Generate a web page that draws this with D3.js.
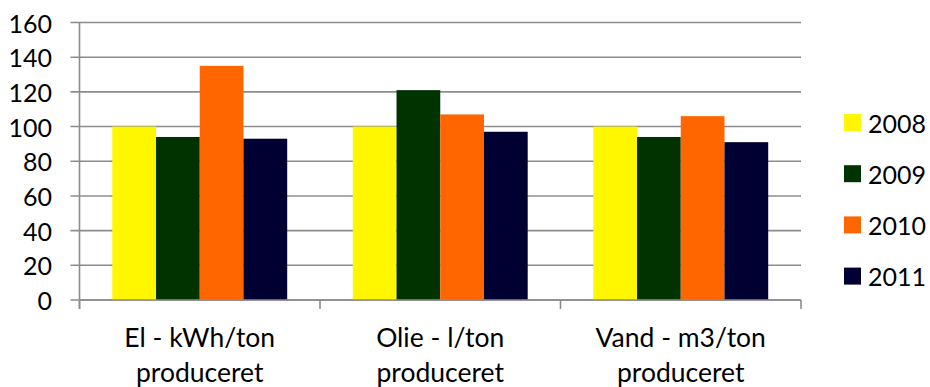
<!DOCTYPE html>
<html>
<head>
<meta charset="utf-8">
<script src="https://cdn.jsdelivr.net/npm/d3@7"></script>
<style>
  html, body { margin: 0; padding: 0; background: #fff; }
  svg { display: block; }
  text { font-family: Lato, "Open Sans", sans-serif; fill: #000; }
</style>
</head>
<body>
<svg id="chart" width="930" height="387"></svg>
<script>
// Category labels (two lines each)
const categories = ["El - kWh/ton\nproduceret", "Olie - l/ton\nproduceret", "Vand - m3/ton\nproduceret"];
const years = ["2008", "2009", "2010", "2011"];
const colors = ["#FFF700", "#003300", "#FF6600", "#000033"];

// Index values per year, in category order
const values2008 = [100, 100, 100];
const values2009 = [94, 121, 94];
const values2010 = [135, 107, 106];
const values2011 = [93, 97, 91];
const seriesValues = [values2008, values2009, values2010, values2011];

const yTicks = [0, 20, 40, 60, 80, 100, 120, 140, 160];

const svg = d3.select("#chart");
const plotLeft = 79.5, plotRight = 801, plotTop = 22.5, plotBottom = 300;

const x0 = d3.scaleBand().domain(categories).range([plotLeft, plotRight]).padding(0);
const x1 = d3.scaleBand().domain(years).range([0, x0.bandwidth()])
  .paddingInner(0).paddingOuter(0.75);
const y = d3.scaleLinear().domain([0, 160]).range([plotBottom, plotTop]);

// Horizontal gridlines with small ticks left of the axis
const grid = svg.append("g");
grid.selectAll("line").data(yTicks).join("line")
  .attr("x1", plotLeft - 9).attr("x2", plotRight)
  .attr("y1", d => y(d)).attr("y2", d => y(d))
  .attr("stroke", "#8c8c8c").attr("stroke-width", 1.6);

// Bars
const groups = svg.append("g").selectAll("g").data(categories).join("g")
  .attr("transform", d => `translate(${x0(d)},0)`);
groups.selectAll("rect")
  .data((c, ci) => years.map((yr, si) => ({ yr, si, v: seriesValues[si][ci] })))
  .join("rect")
  .attr("x", d => x1(d.yr))
  .attr("width", x1.bandwidth())
  .attr("y", d => y(d.v))
  .attr("height", d => y(0) - y(d.v))
  .attr("fill", d => colors[d.si]);

// Value axis line
svg.append("line")
  .attr("x1", plotLeft).attr("x2", plotLeft).attr("y1", plotTop).attr("y2", plotBottom + 9)
  .attr("stroke", "#8c8c8c").attr("stroke-width", 1.6);

// Category axis baseline and boundary ticks
svg.append("line")
  .attr("x1", plotLeft).attr("x2", plotRight).attr("y1", plotBottom).attr("y2", plotBottom)
  .attr("stroke", "#8c8c8c").attr("stroke-width", 1.6);
const bounds = categories.map(c => x0(c)).concat([plotRight]);
svg.append("g").selectAll("line").data(bounds).join("line")
  .attr("x1", d => d).attr("x2", d => d)
  .attr("y1", plotBottom).attr("y2", plotBottom + 9)
  .attr("stroke", "#8c8c8c").attr("stroke-width", 1.6);

// Y tick labels
svg.append("g").selectAll("text").data(yTicks).join("text")
  .attr("x", 52).attr("y", d => y(d))
  .attr("text-anchor", "end").attr("dominant-baseline", "central")
  .style("font-size", "25px")
  .text(d => d);

// Category labels
const catLabels = svg.append("g").selectAll("text").data(categories).join("text")
  .attr("text-anchor", "middle")
  .style("font-size", "26.5px");
catLabels.each(function (d) {
  const t = d3.select(this);
  d.split("\n").forEach((line, i) => {
    t.append("tspan")
      .attr("x", x0(d) + x0.bandwidth() / 2)
      .attr("y", 347 + i * 35)
      .text(line);
  });
});

// Legend
const legend = svg.append("g").selectAll("g").data(years).join("g")
  .attr("transform", (d, i) => `translate(844,${122.5 + i * 51.2})`);
legend.append("rect")
  .attr("x", 0).attr("y", -8.5).attr("width", 17).attr("height", 17)
  .attr("fill", (d, i) => colors[i]);
legend.append("text")
  .attr("x", 24).attr("y", 0)
  .attr("dominant-baseline", "central")
  .style("font-size", "25px")
  .text(d => d);
</script>
</body>
</html>
